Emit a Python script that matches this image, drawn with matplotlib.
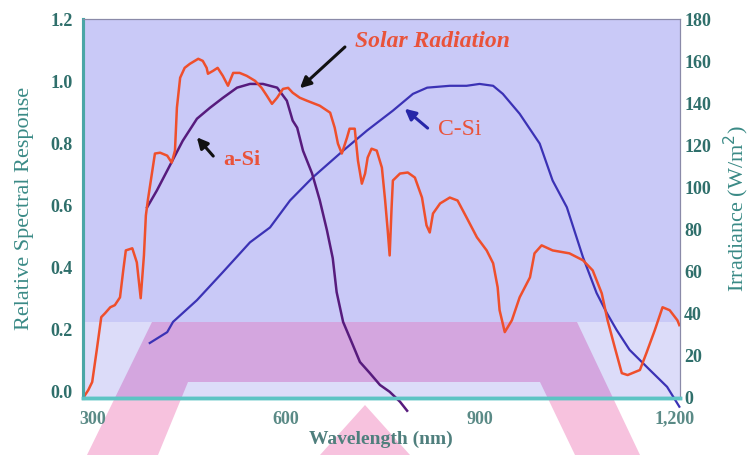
import numpy as np
import matplotlib.pyplot as plt
from matplotlib.patches import Polygon, Rectangle

plt.rcParams["font.family"] = ["Liberation Serif", "DejaVu Serif"]

# solar irradiance (right axis, W/m^2)
solar_wl = [286, 294, 300, 307, 314, 320, 328, 335, 343, 348, 352, 362, 369,
            375, 380, 383, 386, 389, 397, 405, 416, 423, 428, 431, 436, 443,
            451, 464, 471, 477, 479, 487, 494, 502, 510, 518, 528, 539, 552,
            562, 570, 578, 586, 595, 603, 610, 621, 632, 652, 668, 675, 680,
            686, 694, 698, 706, 711, 717, 722, 726, 732, 740, 748, 753, 757,
            760, 763, 765, 776, 788, 799, 810, 817, 822, 827, 838, 853, 865,
            879, 895, 910, 920, 927, 930, 938, 949, 961, 977, 984, 995, 1012,
            1038, 1059, 1074, 1088, 1097, 1108, 1119, 1128, 1147, 1157, 1170,
            1182, 1193, 1205, 1208]
solar_irr = [0, 3.8, 7.6, 22.7, 38.4, 40.3, 43.1, 44.1, 47.8, 60.6, 70.1,
             71.1, 64.4, 47.4, 67.7, 86.7, 93.8, 99.9, 116.1, 116.5, 115.1,
             111.8, 117.5, 137.9, 152.1, 156.8, 158.7, 161.1, 160.1, 156.8,
             154.0, 155.4, 156.8, 153.0, 148.3, 154.4, 154.4, 153.0, 150.6,
             147.3, 143.6, 139.7, 142.6, 146.8, 147.3, 145.0, 142.6, 141.2,
             138.8, 135.5, 128.4, 120.8, 116.1, 123.6, 127.9, 127.9, 112.7,
             101.8, 106.6, 114.2, 118.4, 117.5, 109.4, 93.8, 79.6, 67.7, 90.5,
             103.3, 106.6, 107.1, 104.7, 95.2, 82.0, 78.6, 87.6, 92.4, 95.2,
             93.8, 85.7, 76.3, 70.1, 64.0, 52.6, 41.7, 31.3, 36.9, 47.8, 57.3,
             68.7, 72.5, 70.1, 68.7, 65.4, 60.6, 49.7, 36.9, 24.2, 11.8, 10.9,
             13.3, 21.3, 32.2, 43.1, 41.7, 36.9, 34.6]

# amorphous silicon relative response (left axis)
asi_wl = [385, 400, 420, 440, 462, 482, 502, 524, 544, 564, 586, 601, 610,
          617, 626, 640, 652, 663, 672, 678, 688, 703, 714, 729, 745, 760,
          776, 787]
asi_resp = [0.594, 0.648, 0.728, 0.808, 0.879, 0.914, 0.946, 0.979, 0.991,
            0.991, 0.979, 0.937, 0.873, 0.850, 0.776, 0.703, 0.616, 0.520,
            0.430, 0.321, 0.225, 0.151, 0.096, 0.061, 0.022, 0.0, -0.032,
            -0.061]

# crystalline silicon relative response (left axis)
csi_wl = [389, 416, 425, 462, 502, 544, 575, 606, 641, 688, 725, 765, 796,
          818, 853, 879, 899, 920, 935, 961, 992, 1012, 1034, 1059, 1080,
          1096, 1111, 1131, 1162, 1189, 1208]
csi_resp = [0.157, 0.192, 0.225, 0.295, 0.385, 0.481, 0.529, 0.616, 0.690,
            0.776, 0.841, 0.905, 0.959, 0.979, 0.985, 0.985, 0.991, 0.985,
            0.959, 0.895, 0.799, 0.680, 0.594, 0.433, 0.318, 0.253, 0.199,
            0.135, 0.071, 0.016, -0.048]

x_ticks = [300, 600, 900, 1200]
x_labels = ["300", "600", "900", "1,200"]
left_ticks = [0.0, 0.2, 0.4, 0.6, 0.8, 1.0, 1.2]
right_ticks = [0, 20, 40, 60, 80, 100, 120, 140, 160, 180]

W, H = 751, 455
fig = plt.figure(figsize=(7.51, 4.55), dpi=100)
ax = fig.add_axes([82.5 / W, 1 - 398 / H, (680 - 82.5) / W, (398 - 19) / H])
ax2 = ax.twinx()


def fig_xy(pts):
    return [(px / W, 1 - py / H) for px, py in pts]


# watermark shapes (figure pixels)
a_shape = fig_xy([(87, 455), (152, 322), (577, 322), (640, 455), (575, 455),
                  (540, 382), (188, 382), (158, 455)])
tri_shape = fig_xy([(320, 455), (365, 405), (410, 455)])
for shp in (a_shape, tri_shape):
    fig.add_artist(Polygon(shp, closed=True, transform=fig.transFigure,
                           facecolor="#f7c2de", edgecolor="none", zorder=-1))

ax.set_facecolor("#c9c9f7")
ax.add_patch(Rectangle((0, 0), 1, 0.2, transform=ax.transAxes,
                       facecolor="#dcdcf9", edgecolor="none", zorder=0.5))
ax.add_patch(Polygon(a_shape, closed=True, transform=fig.transFigure,
                     facecolor="#d4a6df", edgecolor="none", zorder=0.6))

ax.plot(csi_wl, csi_resp, color="#3b32b5", lw=1.6, clip_on=False, zorder=3)
ax.plot(asi_wl, asi_resp, color="#571b7d", lw=1.8, clip_on=False, zorder=3)
ax2.plot(solar_wl, solar_irr, color="#ef4f2c", lw=1.8)

ax.set_xlim(285, 1209)
ax.set_ylim(-0.02, 1.2)
ax2.set_ylim(0, 180)

tick_col = "#2f6f6b"
ax.set_xticks(x_ticks)
ax.set_xticklabels(x_labels)
ax.set_yticks(left_ticks)
ax.set_yticklabels([f"{t:.1f}" for t in left_ticks])
ax2.set_yticks(right_ticks)
for a in (ax, ax2):
    a.tick_params(length=0, labelsize=13, labelcolor=tick_col)
    for lbl in a.get_xticklabels() + a.get_yticklabels():
        lbl.set_fontweight("bold")
ax.tick_params(axis="y", pad=7)
ax.tick_params(axis="x", pad=9, labelcolor="#5a8a86")
ax2.tick_params(axis="y", pad=3)

for a in (ax, ax2):
    a.spines["left"].set_color("#4aa6a6")
    a.spines["left"].set_linewidth(2.2)
    a.spines["bottom"].set_color("#5cc4c4")
    a.spines["bottom"].set_linewidth(2.5)
    a.spines["top"].set_color("#8a8aa8")
    a.spines["right"].set_color("#8a8aa8")

ax.set_ylabel("Relative Spectral Response", fontsize=16, color="#3a8a86",
              labelpad=12)
ax2.set_ylabel("Irradiance (W/m$^2$)", fontsize=16, color="#3a8a86",
               labelpad=8)
ax.set_xlabel("Wavelength (nm)", fontsize=14, fontweight="bold",
              color="#4f7f7d", labelpad=2)

red = "#e9533a"
arrow = dict(arrowstyle="-|>", lw=2.2, mutation_scale=16)
ax.annotate("", xy=(618, 0.971), xytext=(694, 1.116),
            arrowprops=dict(arrow, color="#111111"))
ax.text(706, 1.126, "Solar Radiation", fontsize=17, color=red,
        style="italic", fontweight="bold", va="center", ha="left")
ax.annotate("", xy=(459, 0.826), xytext=(490, 0.752),
            arrowprops=dict(arrow, color="#111111"))
ax.text(502, 0.746, "a-Si", fontsize=16, color=red, fontweight="bold",
        va="center", ha="left")
ax.annotate("", xy=(780, 0.917), xytext=(822, 0.843),
            arrowprops=dict(arrow, color="#2626a8"))
ax.text(834, 0.843, "C-Si", fontsize=17, color=red, va="center", ha="left")

fig.savefig("out.png", dpi=100)
